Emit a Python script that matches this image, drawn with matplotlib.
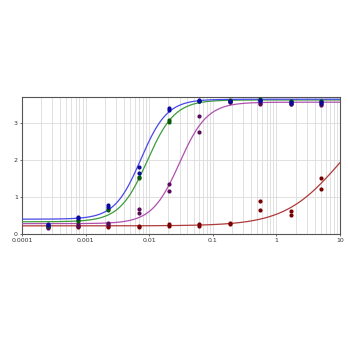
import numpy as np
import matplotlib
matplotlib.use("Agg")
import matplotlib.pyplot as plt
from matplotlib.ticker import LogLocator, FixedLocator, NullFormatter

# dilution series (x, concentration)
conc = [5, 1.667, 0.556, 0.185, 0.0617, 0.0206, 0.00686, 0.00229, 0.000762, 0.000254]

# replicate readings per series (two replicates each, same order as conc)
blue_a = [3.57, 3.57, 3.62, 3.59, 3.62, 3.40, 1.80, 0.77, 0.46, 0.28]
blue_b = [3.55, 3.55, 3.58, 3.58, 3.58, 3.35, 1.64, 0.72, 0.42, 0.25]
green_a = [3.60, 3.60, 3.65, 3.62, 3.60, 3.08, 1.53, 0.68, 0.38, 0.25]
green_b = [3.58, 3.58, 3.62, 3.60, 3.58, 3.03, 1.50, 0.65, 0.35, 0.22]
purple_a = [3.52, 3.52, 3.55, 3.57, 3.19, 1.34, 0.67, 0.30, 0.28, 0.20]
purple_b = [3.49, 3.50, 3.50, 3.56, 2.76, 1.16, 0.56, 0.26, 0.22, 0.16]
red_a = [1.52, 0.63, 0.90, 0.29, 0.27, 0.26, 0.21, 0.22, 0.22, 0.22]
red_b = [1.22, 0.50, 0.65, 0.28, 0.22, 0.22, 0.20, 0.20, 0.20, 0.18]

# 4PL fit parameters: bottom, top, EC50, hill
fit_blue = [0.40, 3.64, 0.0074, 2.1]
fit_green = [0.33, 3.62, 0.0093, 2.0]
fit_purple = [0.28, 3.56, 0.030, 2.0]
fit_red = [0.22, 3.60, 9.8, 1.0]

series = [
    (red_a, red_b, fit_red, "#b03a3a", "#7a0000"),
    (purple_a, purple_b, fit_purple, "#b050b0", "#5a0a5a"),
    (green_a, green_b, fit_green, "#3c9c3c", "#0a5a0a"),
    (blue_a, blue_b, fit_blue, "#4848e8", "#0a0aa0"),
]

def fourpl(x, p):
    b, t, ec, h = p
    return b + (t - b) / (1.0 + (ec / x) ** h)

fig = plt.figure(figsize=(3.48, 3.48), dpi=100)
ax = fig.add_axes([22/348, 1 - 234/348, (340-22)/348, (234-97)/348])

xs = np.logspace(-4, 1, 400)
for ya, yb, p, lc, pc in series:
    ax.plot(xs, fourpl(xs, p), color=lc, lw=0.9, zorder=3)
    ax.scatter(conc, ya, s=9, color=pc, zorder=4, linewidths=0)
    ax.scatter(conc, yb, s=9, color=pc, zorder=4, linewidths=0)

ax.set_xscale("log")
ax.set_xlim(1e-4, 10)
ax.set_ylim(0, 3.7)
ax.xaxis.set_major_locator(FixedLocator([1e-4, 1e-3, 1e-2, 1e-1, 1, 10]))
ax.set_xticklabels(["0.0001", "0.001", "0.01", "0.1", "1", "10"])
ax.xaxis.set_minor_locator(LogLocator(base=10, subs=np.arange(2, 10)))
ax.xaxis.set_minor_formatter(NullFormatter())
ax.set_yticks([0, 1, 2, 3])
ax.set_yticklabels(["0", "1", "2", "3"])
ax.grid(True, which="both", axis="x", color="#dcdcdc", lw=0.6)
ax.grid(True, which="major", axis="y", color="#dcdcdc", lw=0.6)
ax.set_axisbelow(True)
ax.tick_params(axis="both", which="both", labelsize=4.5, length=1.5, width=0.5, pad=1.5, colors="#333333")
ax.tick_params(axis="x", which="minor", length=0)
for s in ax.spines.values():
    s.set_color("#555555")
    s.set_linewidth(0.8)

fig.savefig("out.png", dpi=100)
